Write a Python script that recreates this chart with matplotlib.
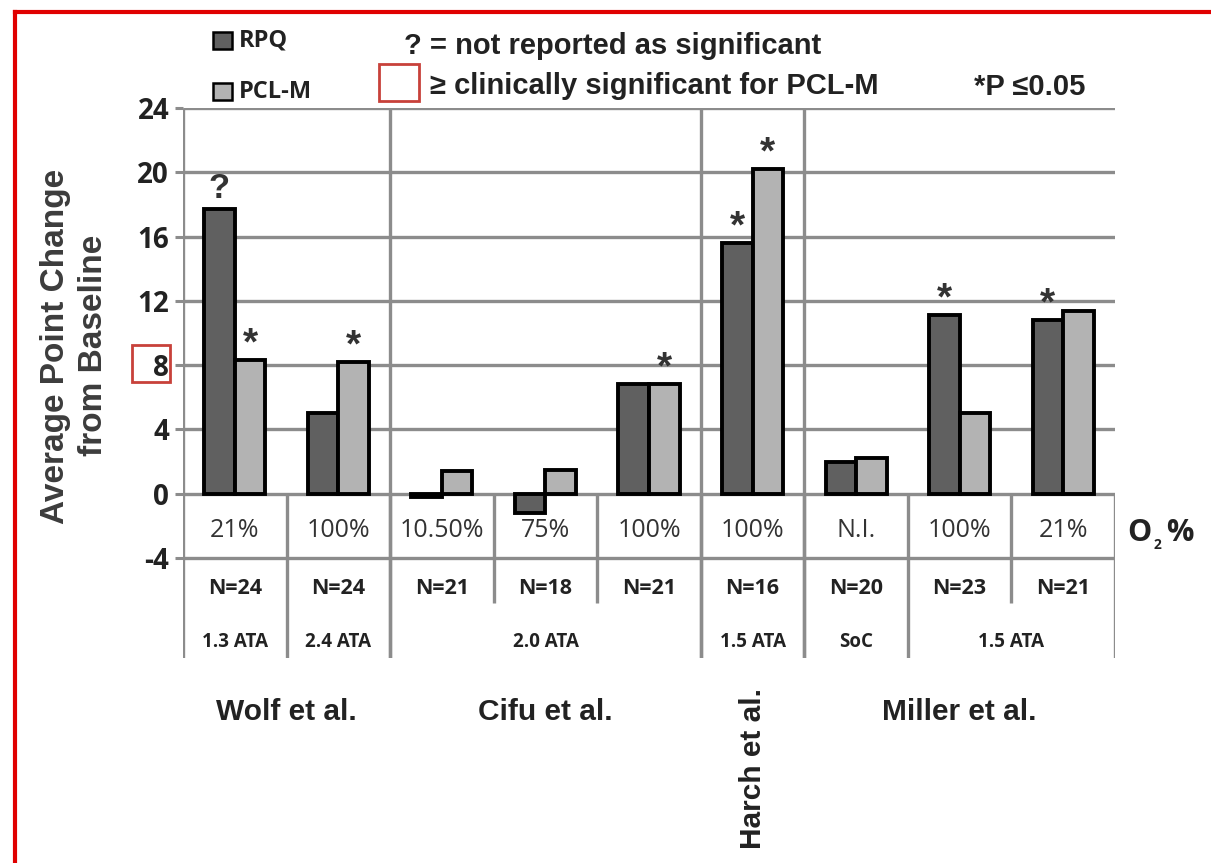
import matplotlib.pyplot as plt
from matplotlib.patches import Rectangle
from matplotlib.lines import Line2D

# Data
o2_labels = ['21%', '100%', '10.50%', '75%', '100%', '100%', 'N.I.', '100%', '21%']
n_labels = ['N=24', 'N=24', 'N=21', 'N=18', 'N=21', 'N=16', 'N=20', 'N=23', 'N=21']
rpq = [17.7, 5.0, -0.2, -1.2, 6.8, 15.6, 2.0, 11.1, 10.8]
pclm = [8.3, 8.2, 1.4, 1.5, 6.8, 20.2, 2.2, 5.0, 11.4]
rpq_marks = ['?', '', '', '', '', '*', '', '*', '*']
pclm_marks = ['*', '*', '', '', '*', '*', '', '', '']
ata_labels = ['1.3 ATA', '2.4 ATA', '2.0 ATA', '1.5 ATA', 'SoC', '1.5 ATA']
ata_spans = [(0, 1), (1, 2), (2, 5), (5, 6), (6, 7), (7, 9)]
studies = ['Wolf et al.', 'Cifu et al.', 'Harch et al.', 'Miller et al.']
study_spans = [(0, 2), (2, 5), (5, 6), (6, 9)]
yticks = [-4, 0, 4, 8, 12, 16, 20, 24]

W, H = 1211, 863
GRID = '#8c8c8c'
DARK = '#606060'
LIGHT = '#b3b3b3'
TXT = '#222222'
RED_BOX = '#c8413a'
ARIAL = 'Liberation Sans'
CAL = 'Open Sans'


def fx(px):
    return px / W


def fy(py):
    return 1 - py / H


fig = plt.figure(figsize=(W / 100, H / 100), dpi=100)
ax = fig.add_axes([fx(183), fy(658), (1115 - 183) / W, (658 - 108) / H])
ppu = (558 - 108) / 28.0
ybot = -4 - (658 - 558) / ppu
ax.set_xlim(0, 9)
ax.set_ylim(ybot, 24)
for s in ax.spines.values():
    s.set_visible(False)
ax.set_xticks([])
ax.set_yticks(yticks)
ax.set_yticklabels([str(t) for t in yticks], fontfamily=CAL, fontweight='bold',
                   fontsize=20, color=TXT)
ax.tick_params(axis='y', length=6, width=2.2, color=GRID, pad=4)

n = len(rpq)
# gridlines and table rows
ax.hlines([t for t in yticks if t > 0], 0, n, color=GRID, lw=2.4, zorder=1)
ax.hlines([0, -4], 0, n, color=GRID, lw=2.4, zorder=1)
ax.vlines(0, ybot, 24, color=GRID, lw=2.4, zorder=1)
for a, b in study_spans[:-1]:
    ax.vlines(b, ybot, 24, color=GRID, lw=2.4, zorder=1)
ax.vlines(n, ybot, 0, color=GRID, lw=2.4, zorder=1)
full = {a for a, b in ata_spans} | {b for a, b in ata_spans}
n_bottom = -4 - (603 - 558) / ppu
for i in range(1, n):
    if i in full:
        ax.vlines(i, ybot, 0, color=GRID, lw=2.4, zorder=1)
    else:
        ax.vlines(i, n_bottom, 0, color=GRID, lw=2.4, zorder=1)

# bars
w = 0.295
xs = [i + 0.5 for i in range(n)]
ax.bar([x - w / 2 for x in xs], rpq, w, color=DARK, edgecolor='black', lw=2.8, zorder=3)
ax.bar([x + w / 2 for x in xs], pclm, w, color=LIGHT, edgecolor='black', lw=2.8, zorder=3)

for x, v, m in zip(xs, rpq, rpq_marks):
    if m == '?':
        ax.text(x - w / 2, v + 0.7, m, ha='center', va='baseline', fontsize=25,
                fontfamily=ARIAL, fontweight='bold', color='#333333')
    elif m:
        ax.text(x - w / 2, v + 0.35, m, ha='center', va='baseline', fontsize=28,
                fontfamily=ARIAL, fontweight='bold', color='#333333')
for x, v, m in zip(xs, pclm, pclm_marks):
    if m:
        ax.text(x + w / 2, v + 0.35, m, ha='center', va='baseline', fontsize=28,
                fontfamily=ARIAL, fontweight='bold', color='#333333')

# table text
for x, lab in zip(xs, o2_labels):
    ax.text(x, -2.3, lab, ha='center', va='center', fontsize=18, fontfamily=CAL,
            color='#333333')
for x, lab in zip(xs, n_labels):
    ax.text(x, -5.87, lab, ha='center', va='center', fontsize=15.5, fontfamily=CAL,
            fontweight='bold', color=TXT)
for lab, (a, b) in zip(ata_labels, ata_spans):
    ax.text((a + b) / 2, -9.2, lab, ha='center', va='center', fontsize=13.5,
            fontfamily=CAL, fontweight='bold', color=TXT)

# study names
for lab, (a, b) in zip(studies, study_spans):
    if b - a == 1:
        ax.text((a + b) / 2, -4 - (688 - 558) / ppu, lab, ha='center', va='top',
                rotation=90, fontsize=21.5, fontfamily=ARIAL, fontweight='bold',
                color=TXT, clip_on=False)
    else:
        ax.text((a + b) / 2, -4 - (712 - 558) / ppu, lab, ha='center', va='center',
                fontsize=21.5, fontfamily=ARIAL, fontweight='bold', color=TXT,
                clip_on=False)

# O2 % label
fig.text(fx(1127), fy(533), 'O', ha='left', va='center', fontsize=22,
         fontfamily=CAL, fontweight='bold', color=TXT)
fig.text(fx(1154), fy(545), '2', ha='left', va='center', fontsize=10,
         fontfamily=CAL, fontweight='bold', color=TXT)
fig.text(fx(1166), fy(533), '%', ha='left', va='center', fontsize=22,
         fontfamily=CAL, fontweight='bold', color=TXT)

# y label
fig.text(fx(56), fy(346), 'Average Point Change', rotation=90, ha='center',
         va='center', fontsize=24, fontfamily=ARIAL, fontweight='bold', color='#3c3c3c')
fig.text(fx(93), fy(345), 'from Baseline', rotation=90, ha='center',
         va='center', fontsize=24, fontfamily=ARIAL, fontweight='bold', color='#3c3c3c')
fig.patches.append(Rectangle((fx(132), fy(382)), (170 - 132) / W, (382 - 345) / H,
                             transform=fig.transFigure, fill=False,
                             edgecolor=RED_BOX, lw=2))

# legend
fig.patches.append(Rectangle((fx(213), fy(49)), 19 / W, 17 / H, transform=fig.transFigure,
                             facecolor=DARK, edgecolor='black', lw=1.8))
fig.patches.append(Rectangle((fx(213), fy(100)), 19 / W, 17 / H, transform=fig.transFigure,
                             facecolor=LIGHT, edgecolor='black', lw=1.8))
fig.text(fx(239), fy(40), 'RPQ', ha='left', va='center', fontsize=17,
         fontfamily=CAL, fontweight='bold', color=TXT)
fig.text(fx(239), fy(92), 'PCL-M', ha='left', va='center', fontsize=17,
         fontfamily=CAL, fontweight='bold', color=TXT)
fig.text(fx(404), fy(46), '? = not reported as significant', ha='left', va='center',
         fontsize=21, fontfamily=ARIAL, fontweight='bold', color=TXT)
fig.patches.append(Rectangle((fx(379), fy(101)), 40 / W, 37 / H, transform=fig.transFigure,
                             fill=False, edgecolor=RED_BOX, lw=2))
fig.text(fx(430), fy(86), '≥ clinically significant for PCL-M', ha='left', va='center',
         fontsize=21, fontfamily=ARIAL, fontweight='bold', color=TXT)
fig.text(fx(974), fy(87), '*P ≤0.05', ha='left', va='center',
         fontsize=21, fontfamily=ARIAL, fontweight='bold', color=TXT)

# red frame
fig.lines.append(Line2D([fx(15), 1], [fy(12), fy(12)], transform=fig.transFigure,
                        color='#e00000', lw=3))
fig.lines.append(Line2D([fx(15), fx(15)], [fy(12), 0], transform=fig.transFigure,
                        color='#e00000', lw=3))

fig.savefig('out.png', dpi=100, facecolor='white')
